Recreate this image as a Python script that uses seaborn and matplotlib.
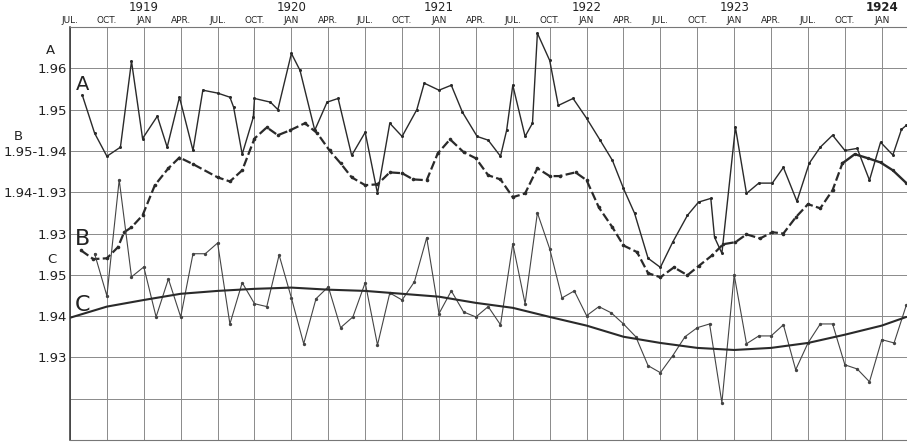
import numpy as np
import pandas as pd
import matplotlib
matplotlib.use("Agg")
import matplotlib.pyplot as plt
import matplotlib.transforms as mtransforms
import seaborn as sns

# months are counted from JUL 1918 (0 = Jul 1918, 6 = Jan 1919 ...)
a_month = [1.0, 2.0, 3.0, 4.1, 5.0, 5.9, 7.1, 7.9, 8.9, 10.0, 10.8, 12.0, 13.0, 13.3, 14.0,
           14.9, 15.0, 16.3, 16.9, 18.0, 18.7, 19.9, 20.9, 21.8, 22.9, 24.0, 25.0, 26.0,
           27.0, 28.2, 28.8, 30.0, 31.0, 31.9, 33.1, 34.0, 35.0, 35.5, 36.0, 37.0, 37.6,
           38.0, 39.0, 39.7, 40.9, 42.0, 43.1, 44.1, 45.0, 45.9, 47.0, 48.0, 49.0, 50.2,
           51.1, 52.1, 52.4, 53.0, 54.1, 55.0, 56.0, 57.1, 58.0, 59.1, 60.1, 61.0, 62.0,
           63.0, 64.0, 65.0, 65.9, 66.9, 67.6, 68.0]
a_value = [1.9535, 1.9443, 1.9387, 1.9409, 1.9617, 1.9430, 1.9484, 1.9409, 1.9530, 1.9401,
           1.9547, 1.9540, 1.9530, 1.9506, 1.9392, 1.9481, 1.9527, 1.9518, 1.9500, 1.9636,
           1.9595, 1.9450, 1.9518, 1.9527, 1.9389, 1.9445, 1.9297, 1.9467, 1.9435, 1.9500,
           1.9564, 1.9547, 1.9559, 1.9494, 1.9435, 1.9426, 1.9387, 1.9450, 1.9559, 1.9435,
           1.9467, 1.9685, 1.9619, 1.9510, 1.9527, 1.9479, 1.9426, 1.9377, 1.9309, 1.9249,
           1.9140, 1.9118, 1.9179, 1.9244, 1.9276, 1.9285, 1.9191, 1.9152, 1.9457, 1.9297,
           1.9322, 1.9322, 1.9360, 1.9278, 1.9370, 1.9409, 1.9438, 1.9401, 1.9406, 1.9329,
           1.9421, 1.9390, 1.9452, 1.9462]

b_month = [0.9, 1.9, 3.0, 3.9, 4.4, 5.0, 5.9, 6.9, 8.0, 8.9, 10.0, 12.0, 13.0, 14.0, 15.0,
           16.0, 16.9, 17.9, 19.1, 20.1, 21.1, 22.0, 22.9, 24.0, 25.0, 26.0, 27.0, 27.9,
           29.0, 29.9, 30.9, 32.0, 33.0, 34.0, 35.0, 36.0, 37.0, 38.0, 39.0, 39.8, 41.1,
           42.0, 43.0, 44.1, 45.0, 46.1, 47.0, 48.0, 49.1, 50.2, 51.1, 52.2, 53.1, 54.1,
           55.0, 56.1, 57.1, 58.0, 59.0, 60.0, 61.0, 62.0, 62.8, 63.8, 64.9, 65.9, 66.9, 68.0]
b_value = [1.9259, 1.9238, 1.9240, 1.9267, 1.9303, 1.9315, 1.9344, 1.9417, 1.9458, 1.9484,
           1.9468, 1.9436, 1.9426, 1.9453, 1.9530, 1.9557, 1.9538, 1.9550, 1.9567, 1.9543,
           1.9501, 1.9470, 1.9436, 1.9417, 1.9419, 1.9448, 1.9446, 1.9431, 1.9429, 1.9494,
           1.9528, 1.9497, 1.9482, 1.9441, 1.9431, 1.9388, 1.9397, 1.9458, 1.9439, 1.9439,
           1.9448, 1.9429, 1.9363, 1.9315, 1.9271, 1.9255, 1.9204, 1.9194, 1.9218, 1.9199,
           1.9221, 1.9247, 1.9274, 1.9279, 1.9298, 1.9288, 1.9303, 1.9300, 1.9339, 1.9371,
           1.9361, 1.9405, 1.9470, 1.9492, 1.9482, 1.9472, 1.9453, 1.9422]
b_dash_end = 62.8  # B is dashed up to here, solid after

c_month = list(range(2, 69))
c_value = [1.9551, 1.9449, 1.9730, 1.9495, 1.9519, 1.9398, 1.9490, 1.9398, 1.9551, 1.9551,
           1.9577, 1.9381, 1.9481, 1.9430, 1.9423, 1.9548, 1.9444, 1.9333, 1.9442, 1.9471,
           1.9372, 1.9398, 1.9481, 1.9330, 1.9456, 1.9439, 1.9483, 1.9590, 1.9406, 1.9461,
           1.9410, 1.9398, 1.9423, 1.9379, 1.9575, 1.9430, 1.9650, 1.9563, 1.9444, 1.9461,
           1.9401, 1.9423, 1.9408, 1.9381, 1.9350, 1.9280, 1.9263, 1.9304, 1.9350, 1.9372,
           1.9381, 1.9190, 1.9500, 1.9333, 1.9352, 1.9352, 1.9379, 1.9270, 1.9335, 1.9381,
           1.9381, 1.9282, 1.9272, 1.9241, 1.9343, 1.9335, 1.9427]

trend_month = [0, 3, 6, 9, 12, 15, 18, 21, 24, 27, 30, 33, 36, 39, 42, 45, 48, 51, 54, 57,
               60, 63, 66, 68]
trend_value = [1.9396, 1.9423, 1.9439, 1.9454, 1.9461, 1.9466, 1.9469, 1.9464, 1.9461,
               1.9454, 1.9447, 1.9432, 1.9420, 1.9398, 1.9377, 1.9350, 1.9335, 1.9323,
               1.9318, 1.9323, 1.9335, 1.9355, 1.9377, 1.9398]

quarter_month = list(range(0, 67, 3))
quarter_label = ["JUL.", "OCT.", "JAN", "APR."] * 6
quarter_label = quarter_label[:len(quarter_month)]
year_month = [6, 18, 30, 42, 54, 66]
year_label = ["1919", "1920", "1921", "1922", "1923", "1924"]

ytick_pos = [1.96, 1.95, 1.94, 1.93, 1.92, 1.91, 1.90, 1.89, 1.88]
ytick_label = ["1.96", "1.95", "1.95-1.94", "1.94-1.93", "1.93", "1.95", "1.94", "1.93", ""]

# vertical offsets that stack the three scales on one sheet (in A units)
b_shift = -0.01
c_shift = -0.04

sns.set_style("white")
plt.rcParams["font.family"] = ["DejaVu Sans"]

W, H = 907, 444
fig = plt.figure(figsize=(W / 100, H / 100), dpi=100)
ax = fig.add_axes([70 / W, 4 / H, 837 / W, 413 / H])

ink = "#2a2a2a"
df_a = pd.DataFrame({"m": a_month, "v": a_value})
sns.lineplot(data=df_a, x="m", y="v", ax=ax, sort=False, estimator=None, color=ink,
             lw=1.0, marker="o", markersize=2.2, markeredgewidth=0)

b_m = np.array(b_month)
b_v = np.array(b_value) + b_shift
dash = b_m <= b_dash_end
sns.lineplot(x=b_m[dash], y=b_v[dash], ax=ax, sort=False, estimator=None, color=ink,
             lw=1.6, linestyle=(0, (4, 1.5)), marker="o", markersize=2.6, markeredgewidth=0)
solid = b_m >= b_dash_end
sns.lineplot(x=b_m[solid], y=b_v[solid], ax=ax, sort=False, estimator=None, color=ink,
             lw=1.7, marker="o", markersize=2.4, markeredgewidth=0)

sns.lineplot(x=c_month, y=np.array(c_value) + c_shift, ax=ax, sort=False, estimator=None,
             color="#444444", lw=0.8, marker="o", markersize=2.4, markeredgewidth=0)
sns.lineplot(x=trend_month, y=np.array(trend_value) + c_shift, ax=ax, sort=False,
             estimator=None, color=ink, lw=1.5)

ax.set_xlim(0, 68.05)
ax.set_ylim(1.87, 1.97)
ax.set_xlabel("")
ax.set_ylabel("")

ax.set_xticks(quarter_month)
ax.set_xticklabels(quarter_label, fontsize=6.5)
ax.xaxis.tick_top()
ax.tick_params(axis="x", length=0, pad=1.5, colors="#222222")
ax.set_yticks(ytick_pos)
ax.set_yticklabels(ytick_label, fontsize=9.5)
ax.tick_params(axis="y", length=0, pad=2, colors="#222222")

ax.grid(True, color="#8a8a8a", lw=0.7)
ax.spines["left"].set_color("#333333")
ax.spines["left"].set_linewidth(1.1)
for s in ["top", "bottom"]:
    ax.spines[s].set_color("#777777")
    ax.spines[s].set_linewidth(0.8)
ax.spines["right"].set_visible(False)

trans = mtransforms.blended_transform_factory(ax.transData, ax.transAxes)
for m, lab in zip(year_month, year_label):
    ax.text(m, 1.032, lab, transform=trans, ha="center", va="bottom", fontsize=8.5,
            color="#222222", fontweight="bold" if lab == "1924" else "normal")

# scale letters on the left margin
fig.text(50 / W, 1 - 50 / H, "A", ha="center", va="center", fontsize=9.5, color="#222222")
fig.text(18 / W, 1 - 136 / H, "B", ha="center", va="center", fontsize=9.5, color="#222222")
fig.text(52 / W, 1 - 259 / H, "C", ha="center", va="center", fontsize=9.5, color="#222222")

# curve letters inside the chart
ax.text(1.05, 1.9561, "A", ha="center", va="center", fontsize=14, color="#222222")
ax.text(1.0, 1.9186, "B", ha="center", va="center", fontsize=16, color="#222222")
ax.text(1.0, 1.9026, "C", ha="center", va="center", fontsize=16, color="#222222")

fig.savefig("out.png", dpi=100)
